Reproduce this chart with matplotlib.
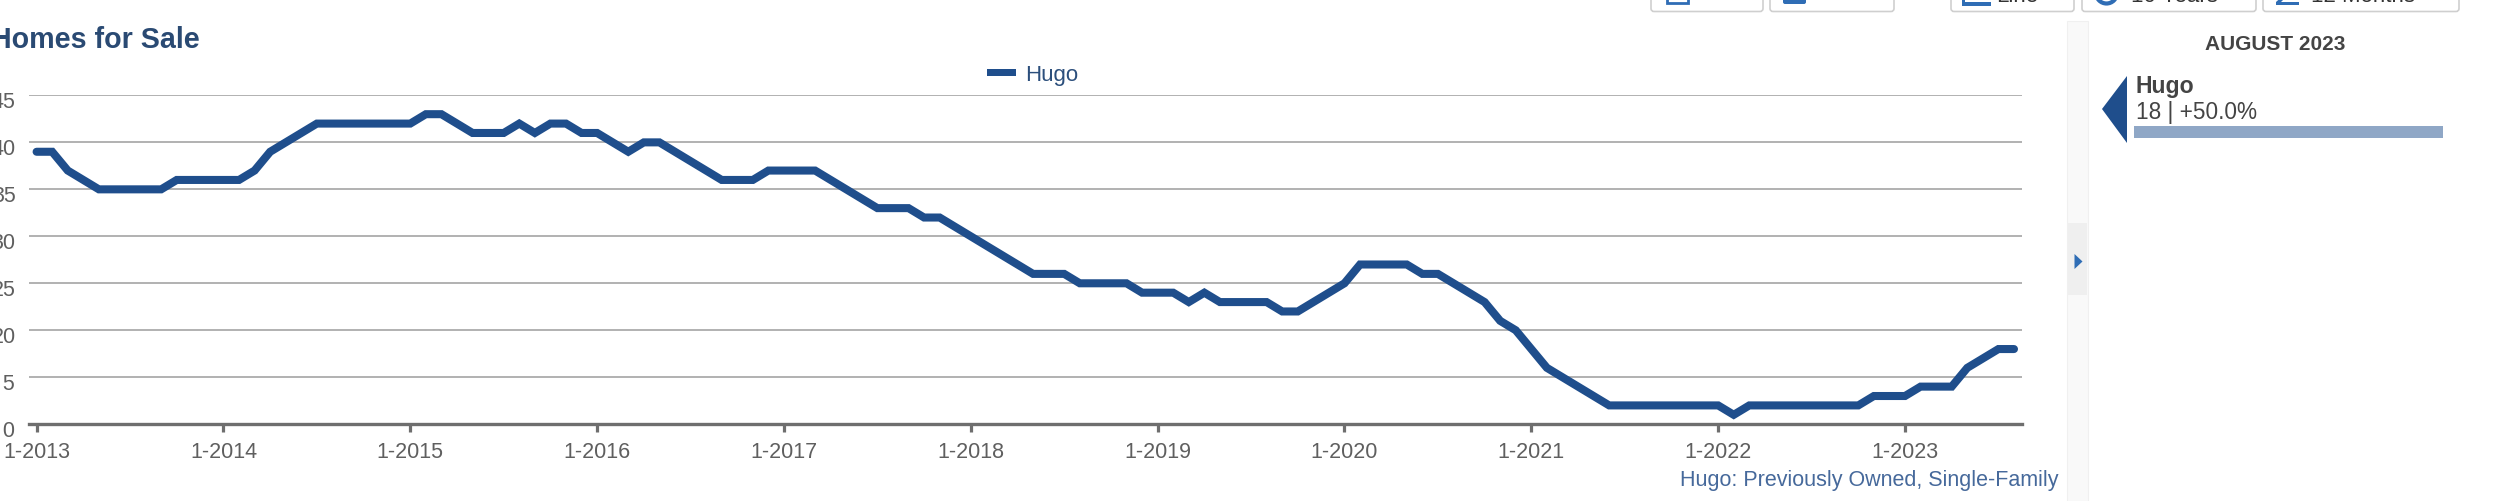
#!/usr/bin/env python3
"""Homes for Sale, Hugo, monthly 1-2013 to 8-2023."""

import matplotlib
matplotlib.use("Agg")
import matplotlib.pyplot as plt
from matplotlib.patches import Circle, FancyBboxPatch, Polygon, Rectangle
from matplotlib.transforms import Bbox, ScaledTranslation

W, H = 2500, 502

# monthly values, Jan 2013 onwards
hugo = [
    39, 39, 37, 36, 35, 35, 35, 35, 35, 36, 36, 36,  # 2013
    36, 36, 37, 39, 40, 41, 42, 42, 42, 42, 42, 42,  # 2014
    42, 43, 43, 42, 41, 41, 41, 42, 41, 42, 42, 41,  # 2015
    41, 40, 39, 40, 40, 39, 38, 37, 36, 36, 36, 37,  # 2016
    37, 37, 37, 36, 35, 34, 33, 33, 33, 32, 32, 31,  # 2017
    30, 29, 28, 27, 26, 26, 26, 25, 25, 25, 25, 24,  # 2018
    24, 24, 23, 24, 23, 23, 23, 23, 22, 22, 23, 24,  # 2019
    25, 27, 27, 27, 27, 26, 26, 25, 24, 23, 21, 20,  # 2020
    18, 16, 15, 14, 13, 12, 12, 12, 12, 12, 12, 12,  # 2021
    12, 11, 12, 12, 12, 12, 12, 12, 12, 12, 13, 13,  # 2022
    13, 14, 14, 14, 16, 17, 18, 18,                  # 2023
]
year_labels = ["1-2013", "1-2014", "1-2015", "1-2016", "1-2017", "1-2018",
               "1-2019", "1-2020", "1-2021", "1-2022", "1-2023"]
y_ticks = [10, 15, 20, 25, 30, 35, 40, 45]

NAVY = "#1f4e8c"
GREY = "#5f5f5f"
ICON = "#2f6db5"
plt.rcParams["font.family"] = ["Liberation Sans", "DejaVu Sans"]

fig = plt.figure(figsize=(W / 100, H / 100), dpi=100)

# main plot, placed in pixels
left, right, top, bottom = 29.4, 2022, 96.4, 425.2
ax = fig.add_axes([left / W, 1 - bottom / H, (right - left) / W, (bottom - top) / H])
px_month = 15.57
ax.set_xlim((left - 36.6) / px_month, (right - 36.6) / px_month)
ax.set_ylim(10, 45)
ax.plot(range(len(hugo)), hugo, color=NAVY, lw=5.8, solid_capstyle="round",
        solid_joinstyle="miter", zorder=3, clip_on=False)

ax.set_yticks(y_ticks)
ax.grid(axis="y", color="#ababab", lw=1.3, zorder=1)
ax.set_xticks(range(0, 12 * len(year_labels), 12))
ax.set_xticklabels(year_labels)
for s in ["top", "left", "right"]:
    ax.spines[s].set_visible(False)
ax.spines["bottom"].set_color("#6e6e6e")
ax.spines["bottom"].set_linewidth(2.4)
ax.tick_params(axis="x", length=6, width=2.3, color="#6e6e6e", labelcolor=GREY,
               labelsize=15.5, pad=6)
ax.tick_params(axis="y", length=0, labelcolor=GREY, labelsize=15.5, pad=10)

# y labels hang a little below their gridlines and run off the left edge
shift = ScaledTranslation(0, -4 / 100, fig.dpi_scale_trans)
for val, lab in zip(y_ticks, ax.get_yticklabels()):
    lab.set_transform(lab.get_transform() + shift)
    if val < 20:
        lab.set_clip_box(Bbox([[2.8, 0], [60, H]]))
        lab.set_clip_on(True)

# overlay in pixel coordinates for the page furniture
ov = fig.add_axes([0, 0, 1, 1], zorder=5)
ov.set_xlim(0, W)
ov.set_ylim(H, 0)
ov.axis("off")
ov.patch.set_alpha(0)

ov.text(200, 48, "Homes for Sale", ha="right", va="baseline", fontsize=20.6,
        fontweight="bold", color="#2a4a73")

# legend
ov.add_patch(Rectangle((987, 70), 29, 7.3, color=NAVY, lw=0))
ov.text(1025, 80.5, "Hugo", ha="left", va="baseline", fontsize=16, color="#2c4f7c")

ov.text(2058, 486.5, "Hugo: Previously Owned, Single-Family", ha="right", va="baseline",
        fontsize=15.5, color="#46699b")

# collapse strip
ov.add_patch(Rectangle((2067, 22), 21, H - 22, fc="#f9f9f9", ec="#f0f0f0", lw=0.8))
ov.add_patch(Rectangle((2068, 224), 19, 72, color="#efefef", lw=0))
ov.add_patch(Polygon([(2074.5, 255), (2082.5, 262.5), (2074.5, 270)], color=ICON, lw=0))

# side panel
ov.text(2275, 49.5, "AUGUST 2023", ha="center", va="baseline", fontsize=15,
        fontweight="bold", color="#444444")
ov.add_patch(Polygon([(2127, 77), (2127, 144), (2102, 110)], color=NAVY, lw=0))
ov.text(2135.5, 93, "Hugo", ha="left", va="baseline", fontsize=16.6, fontweight="bold",
        color="#444444")
ov.text(2135.5, 119.3, "18 | +50.0%", ha="left", va="baseline", fontsize=16.3, color="#444444")
ov.add_patch(Rectangle((2134, 126.5), 309, 12.3, color="#8fa7c6", lw=0))

# buttons cut off by the top of the picture
btn_x = [(1651, 1763), (1770, 1894), (1951, 2074), (2082, 2256), (2263, 2459)]
for x0, x1 in btn_x:
    ov.add_patch(FancyBboxPatch((x0 + 3, -30), x1 - x0 - 6, 39.5, boxstyle="round,pad=3",
                                fc="white", ec="#cfcfcf", lw=1.2))

# button icons, only their lower ends show
ov.add_patch(Rectangle((1667, -10), 21, 14, fc="white", ec=ICON, lw=2))
ov.add_patch(FancyBboxPatch((1785, -10), 19, 13, boxstyle="round,pad=2", fc=ICON, lw=0))
ov.add_patch(Rectangle((1962, 3), 29, 3.5, color=ICON, lw=0))
ov.add_patch(Rectangle((1962, -5), 3, 9, color=ICON, lw=0))
ov.add_patch(Circle((2106.5, -6), 10.5, fc="white", ec=ICON, lw=3))
ov.add_patch(Rectangle((2276, 2.5), 23, 3.5, color=ICON, lw=0))
ov.add_patch(Polygon([(2276, 3), (2285, -5), (2289, -5), (2281, 3)], color=ICON, lw=0))

for x, lab in [(1996, "Line"), (2131, "10 Years"), (2311, "12 Months")]:
    ov.text(x, 1.5, lab, ha="left", va="baseline", fontsize=16, color="#333333")

fig.savefig("out.png", dpi=100, facecolor="white")
